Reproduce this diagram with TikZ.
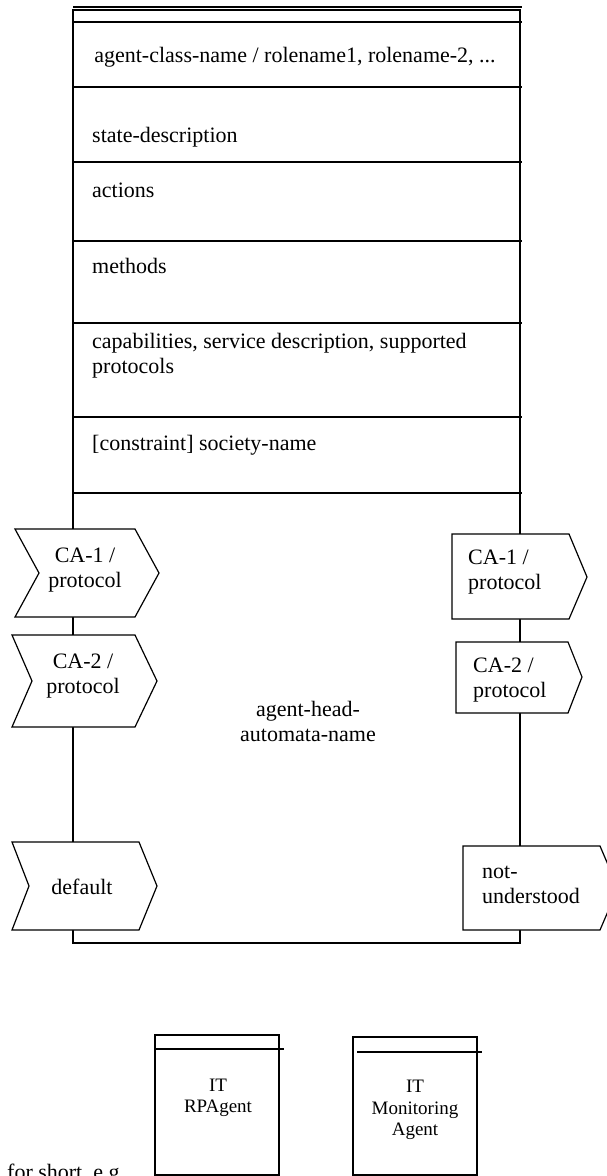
\documentclass[tikz,border=0pt]{standalone}
\usepackage{fontspec}
\setmainfont{Liberation Serif}
\begin{document}
\begin{tikzpicture}[x=1pt,y=-1pt,
  edge/.style={line width=1.2pt,line join=miter},
  port/.style={line width=1.2pt,fill=white,line join=miter},
  lbl/.style={inner sep=0pt,font=\fontsize{22}{25}\selectfont},
  smalllbl/.style={inner sep=0pt,font=\fontsize{19}{21.5}\selectfont,align=center}]
\useasboundingbox (0,0) rectangle (607,1176);
\clip (0,0) rectangle (607,1176);
\fill[white] (0,0) rectangle (607,1176);
% main agent box
\draw[edge] (73,10) rectangle (520,943);
\draw[edge] (73,7) -- (522,7);
\foreach \yy in {22,87,162,241,323,417,493}
  \draw[edge] (73,\yy) -- (522,\yy);
% compartment texts
\node[lbl] (cls) at (295,57) {agent-class-name / rolename1, rolename-2, ...};
\node[lbl,anchor=west] (state) at (92,137) {state-description};
\node[lbl,anchor=west] (act) at (92,190) {actions};
\node[lbl,anchor=west] (meth) at (92,266) {methods};
\node[lbl,anchor=north west,align=left] (cap) at (92,333) {capabilities, service description, supported\\protocols};
\node[lbl,anchor=west] (soc) at (92,445) {[constraint] society-name};
\node[lbl,align=center] (auto) at (308,721) {agent-head-\\automata-name};
% left (incoming) ports
\draw[port] (15,529) -- (135,529) -- (159,573) -- (135,617) -- (15,617) -- (39,573) -- cycle;
\node[lbl,align=center] (ca1l) at (85,570) {CA-1 /\\protocol};
\draw[port] (12,635) -- (135,635) -- (157,681) -- (135,727) -- (12,727) -- (32,681) -- cycle;
\node[lbl,align=center] (ca2l) at (83,676) {CA-2 /\\protocol};
\draw[port] (12,842) -- (139,842) -- (157,886) -- (139,930) -- (12,930) -- (29,886) -- cycle;
\node[lbl] (defl) at (82,887) {default};
% right (outgoing) ports
\draw[port] (452,534) -- (569,534) -- (587,577) -- (569,619) -- (452,619) -- cycle;
\node[lbl,align=left,anchor=west] (ca1r) at (468,572) {CA-1 /\\protocol};
\draw[port] (456,642) -- (568,642) -- (582,677) -- (568,713) -- (456,713) -- cycle;
\node[lbl,align=left,anchor=west] (ca2r) at (473,680) {CA-2 /\\protocol};
\draw[port] (463,846) -- (600,846) -- (618,888) -- (600,930) -- (463,930) -- cycle;
\node[lbl,align=left,anchor=west] (nur) at (482,885) {not-\\understood};
% short forms
\draw[edge] (155,1035) rectangle (279,1175);
\draw[edge] (155,1049) -- (284,1049);
\node[smalllbl] (rpa) at (218,1098) {IT\\RPAgent};
\draw[edge] (353,1037) rectangle (477,1175);
\draw[edge] (357,1052) -- (482,1052);
\node[smalllbl] (mon) at (415,1110) {IT\\Monitoring\\Agent};
\node[lbl,anchor=base west] (short) at (7,1179) {for short, e.g.};
\end{tikzpicture}
\end{document}
